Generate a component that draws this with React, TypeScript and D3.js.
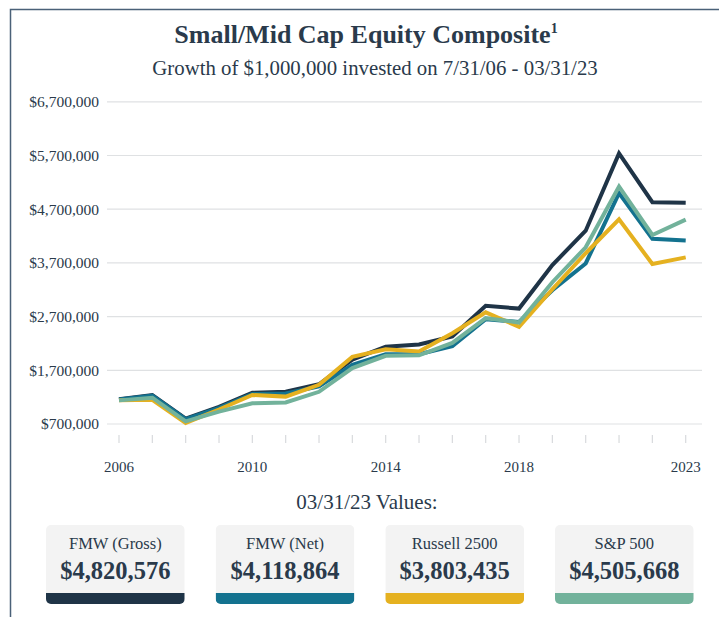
import React from "react";
import * as d3 from "d3";

const years = [2006, 2007, 2008, 2009, 2010, 2011, 2012, 2013, 2014, 2015, 2016, 2017, 2018, 2019, 2020, 2021, 2022, 2023];
const gross = [1.16, 1.24, 0.8, 1.02, 1.28, 1.3, 1.44, 1.9, 2.14, 2.18, 2.33, 2.9, 2.85, 3.66, 4.3, 5.74, 4.83, 4.820576];
const net = [1.155, 1.23, 0.79, 1.0, 1.26, 1.27, 1.4, 1.8, 2.0, 2.0, 2.15, 2.65, 2.6, 3.19, 3.69, 5.0, 4.15, 4.118864];
const russell = [1.14, 1.15, 0.72, 0.97, 1.24, 1.21, 1.43, 1.95, 2.09, 2.05, 2.39, 2.78, 2.51, 3.21, 3.88, 4.51, 3.68, 3.803435];
const sp = [1.14, 1.19, 0.75, 0.93, 1.085, 1.1, 1.3, 1.74, 1.97, 1.98, 2.21, 2.67, 2.59, 3.34, 3.99, 5.12, 4.22, 4.505668];

const yTicks = [0.7, 1.7, 2.7, 3.7, 4.7, 5.7, 6.7];
const xLabelYears = [2006, 2010, 2014, 2018, 2023];

const seriesNames = ["FMW (Gross)", "FMW (Net)", "Russell 2500", "S&P 500"];
const seriesValues = [gross, net, russell, sp];
const seriesColors = ["#1f3447", "#13728f", "#e5b120", "#72b29b"];
const finalLabels = ["$4,820,576", "$4,118,864", "$3,803,435", "$4,505,668"];

const FONT = "'Liberation Serif', 'DejaVu Serif', serif";
const TEXT = "#2a3a4b";

export default function App() {
  React.useEffect(() => {
    document.body.style.margin = "0";
  }, []);

  const x = d3.scaleLinear().domain([2006, 2023]).range([119, 685.7]);
  const y = d3.scaleLinear().domain([0.7, 6.7]).range([424, 101.8]);
  const line = d3
    .line<number>()
    .x((_, i) => x(years[i]))
    .y((d) => y(d))
    .curve(d3.curveLinear);

  const fmt = d3.format(",");
  const cardX = d3.scaleLinear().domain([0, 3]).range([46, 555]);
  const cardW = 138.7;

  return (
    <svg width={719} height={617} style={{ display: "block" }}>
      <rect x={0} y={0} width={719} height={617} fill="#ffffff" />
      <path d="M10.5,617 L10.5,9.5 L719,9.5" fill="none" stroke="#4a6178" strokeWidth={1.5} />

      <text x={366} y={43} textAnchor="middle" fontFamily={FONT} fontWeight="bold" fontSize={26} fill={TEXT}>
        Small/Mid Cap Equity Composite
        <tspan fontSize={14} dy={-10}>1</tspan>
      </text>
      <text x={375} y={75} textAnchor="middle" fontFamily={FONT} fontSize={20.8} fill={TEXT}>
        Growth of $1,000,000 invested on 7/31/06 - 03/31/23
      </text>

      {yTicks.map((t) => (
        <g key={t}>
          <line x1={107} x2={702} y1={y(t)} y2={y(t)} stroke="#dfe1e3" strokeWidth={1.2} />
          <text x={99} y={y(t)} dy="0.35em" textAnchor="end" fontFamily={FONT} fontSize={15.5} fill={TEXT}>
            ${fmt(Math.round(t * 1000000))}
          </text>
        </g>
      ))}

      {years.map((yr) => (
        <line key={yr} x1={x(yr)} x2={x(yr)} y1={435} y2={443} stroke="#d8dadd" strokeWidth={1.2} />
      ))}
      {xLabelYears.map((yr) => (
        <text key={yr} x={x(yr)} y={472} textAnchor="middle" fontFamily={FONT} fontSize={15} fill={TEXT}>
          {yr}
        </text>
      ))}

      {seriesValues.map((vals, i) => (
        <path key={i} d={line(vals) || ""} fill="none" stroke={seriesColors[i]} strokeWidth={4} strokeLinejoin="miter" />
      ))}

      <text x={367} y={509} textAnchor="middle" fontFamily={FONT} fontSize={21} fill={TEXT}>
        03/31/23 Values:
      </text>

      {seriesNames.map((name, i) => {
        const cx = cardX(i);
        return (
          <g key={name}>
            <clipPath id={`clip${i}`}>
              <rect x={cx} y={525} width={cardW} height={79} rx={5} ry={5} />
            </clipPath>
            <g clipPath={`url(#clip${i})`}>
              <rect x={cx} y={525} width={cardW} height={79} fill="#f3f3f3" />
              <rect x={cx} y={593} width={cardW} height={11} fill={seriesColors[i]} />
            </g>
            <text x={cx + cardW / 2} y={549} textAnchor="middle" fontFamily={FONT} fontSize={16.5} fill={TEXT}>
              {name}
            </text>
            <text x={cx + cardW / 2} y={579} textAnchor="middle" fontFamily={FONT} fontWeight="bold" fontSize={24.5} fill={TEXT}>
              {finalLabels[i]}
            </text>
          </g>
        );
      })}
    </svg>
  );
}
